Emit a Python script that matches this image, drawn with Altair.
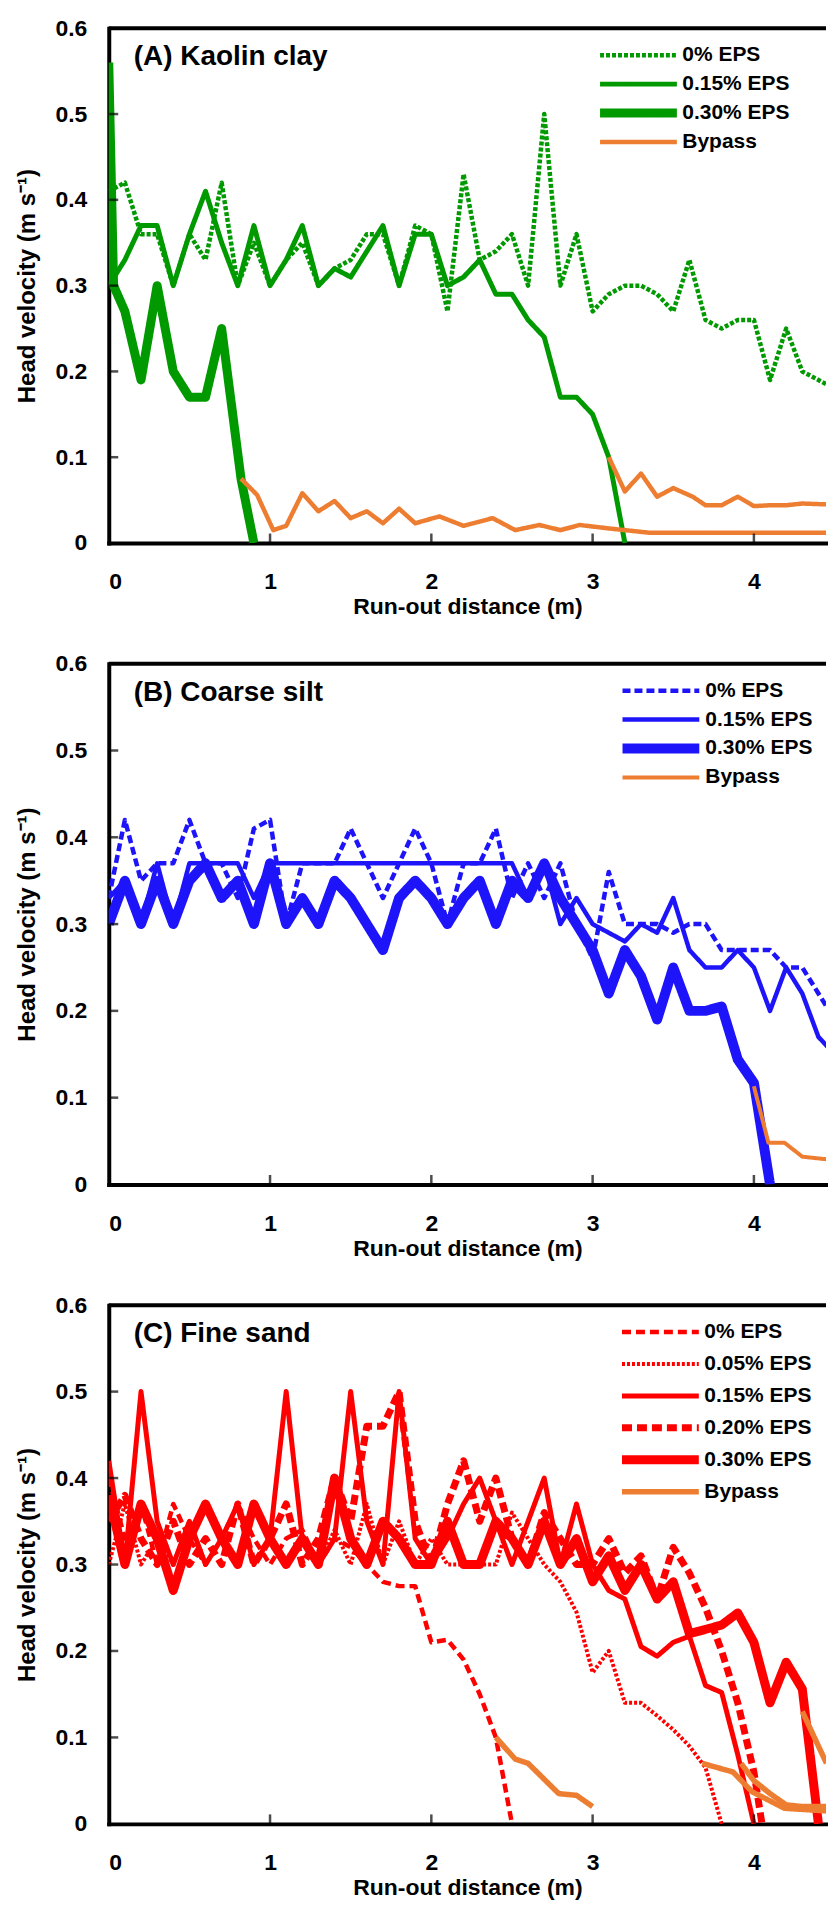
import altair as alt
import pandas as pd

FONT = "Liberation Sans"
XMAX = 4.447
X_TICKS = [0, 1, 2, 3, 4]
Y_TICKS = [0, 0.1, 0.2, 0.3, 0.4, 0.5, 0.6]
W = 719
ORANGE = "#ED7D31"

# ---------------- Panel A: Kaolin clay ----------------
A_title = "(A) Kaolin clay"
A_series = ["0% EPS", "0.15% EPS", "0.30% EPS", "Bypass"]
A_colors = ["#009900", "#009900", "#009900", ORANGE]
A_dash = [[4, 2], [1, 0], [1, 0], [1, 0]]
A_width = [4.5, 5, 9, 4.5]

A0_x = [0.0, 0.1, 0.2, 0.3, 0.4, 0.5, 0.6, 0.7, 0.8, 0.9, 1.0, 1.1, 1.2, 1.3, 1.4, 1.5,
        1.6, 1.7, 1.8, 1.9, 2.0, 2.1, 2.2, 2.3, 2.4, 2.5, 2.6, 2.7, 2.8, 2.9, 3.0, 3.1,
        3.2, 3.3, 3.4, 3.5, 3.6, 3.7, 3.8, 3.9, 4.0, 4.1, 4.2, 4.3, 4.4, 4.5]
A0_y = [0.41, 0.42, 0.36, 0.36, 0.30, 0.36, 0.33, 0.42, 0.30, 0.35, 0.30, 0.33, 0.35, 0.30,
        0.32, 0.33, 0.36, 0.36, 0.30, 0.37, 0.36, 0.27, 0.43, 0.33, 0.34, 0.36, 0.30, 0.50,
        0.30, 0.36, 0.27, 0.29, 0.30, 0.30, 0.29, 0.27, 0.33, 0.26, 0.25, 0.26, 0.26, 0.19,
        0.25, 0.20, 0.19, 0.18]
A15_x = [0.0, 0.1, 0.2, 0.3, 0.4, 0.5, 0.6, 0.7, 0.8, 0.9, 1.0, 1.1, 1.2, 1.3, 1.4, 1.5,
         1.6, 1.7, 1.8, 1.9, 2.0, 2.1, 2.2, 2.3, 2.4, 2.5, 2.6, 2.7, 2.8, 2.9, 3.0, 3.1, 3.2]
A15_y = [0.30, 0.33, 0.37, 0.37, 0.30, 0.36, 0.41, 0.35, 0.30, 0.37, 0.30, 0.33, 0.37, 0.30,
         0.32, 0.31, 0.34, 0.37, 0.30, 0.36, 0.36, 0.30, 0.31, 0.33, 0.29, 0.29, 0.26, 0.24,
         0.17, 0.17, 0.15, 0.10, 0.0]
A30_x = [0.0, 0.03, 0.1, 0.2, 0.3, 0.4, 0.5, 0.6, 0.7, 0.82, 0.9]
A30_y = [0.56, 0.30, 0.27, 0.19, 0.30, 0.20, 0.17, 0.17, 0.25, 0.075, 0.0]
AB1_x = [0.82, 0.92, 1.02, 1.1, 1.2, 1.3, 1.4, 1.5, 1.6, 1.7, 1.8, 1.9, 2.05, 2.2, 2.38,
         2.52, 2.67, 2.8, 2.92, 3.1, 3.35, 4.0, 4.45]
AB1_y = [0.075, 0.056, 0.015, 0.02, 0.058, 0.037, 0.049, 0.029, 0.037, 0.023, 0.04, 0.023,
         0.031, 0.02, 0.029, 0.015, 0.021, 0.015, 0.021, 0.017, 0.012, 0.012, 0.012]
AB2_x = [3.1, 3.2, 3.3, 3.4, 3.5, 3.62, 3.7, 3.8, 3.9, 4.0, 4.1, 4.2, 4.3, 4.45]
AB2_y = [0.10, 0.06, 0.081, 0.054, 0.064, 0.054, 0.044, 0.044, 0.054, 0.043, 0.044, 0.044,
         0.046, 0.045]

# ---------------- Panel B: Coarse silt ----------------
B_title = "(B) Coarse silt"
B_series = ["0% EPS", "0.15% EPS", "0.30% EPS", "Bypass"]
B_colors = ["#1E14FA", "#1E14FA", "#1E14FA", ORANGE]
B_dash = [[8, 4], [1, 0], [1, 0], [1, 0]]
B_width = [4.5, 4.5, 10, 4]

B0_x = A0_x
B0_y = [0.33, 0.42, 0.35, 0.37, 0.37, 0.42, 0.37, 0.37, 0.33, 0.41, 0.42, 0.30, 0.37, 0.37,
        0.37, 0.41, 0.37, 0.33, 0.37, 0.41, 0.37, 0.30, 0.37, 0.37, 0.41, 0.33, 0.37, 0.33,
        0.37, 0.30, 0.26, 0.36, 0.30, 0.30, 0.30, 0.29, 0.30, 0.30, 0.27, 0.27, 0.27, 0.27,
        0.25, 0.25, 0.22, 0.19]
B15_x = A0_x
B15_y = [0.33, 0.35, 0.30, 0.37, 0.30, 0.37, 0.37, 0.37, 0.37, 0.33, 0.37, 0.37, 0.37, 0.37,
         0.37, 0.37, 0.37, 0.37, 0.37, 0.37, 0.37, 0.37, 0.37, 0.37, 0.37, 0.37, 0.33, 0.37,
         0.30, 0.33, 0.30, 0.29, 0.28, 0.30, 0.29, 0.33, 0.27, 0.25, 0.25, 0.27, 0.25, 0.20,
         0.25, 0.22, 0.17, 0.15]
B30_x = [0.0, 0.1, 0.2, 0.3, 0.4, 0.5, 0.6, 0.7, 0.8, 0.9, 1.0, 1.1, 1.2, 1.3, 1.4, 1.5,
         1.6, 1.7, 1.8, 1.9, 2.0, 2.1, 2.2, 2.3, 2.4, 2.5, 2.6, 2.7, 2.8, 2.9, 3.0, 3.1,
         3.2, 3.3, 3.4, 3.5, 3.6, 3.7, 3.8, 3.9, 4.0, 4.1]
B30_y = [0.30, 0.35, 0.30, 0.35, 0.30, 0.35, 0.37, 0.33, 0.35, 0.30, 0.37, 0.30, 0.33, 0.30,
         0.35, 0.33, 0.30, 0.27, 0.33, 0.35, 0.33, 0.30, 0.33, 0.35, 0.30, 0.35, 0.33, 0.37,
         0.33, 0.30, 0.27, 0.22, 0.27, 0.24, 0.19, 0.25, 0.20, 0.20, 0.205, 0.144, 0.117, 0.0]
BB_x = [4.0, 4.09, 4.19, 4.3, 4.45]
BB_y = [0.113, 0.048, 0.048, 0.032, 0.029]

# ---------------- Panel C: Fine sand ----------------
C_title = "(C) Fine sand"
C_series = ["0% EPS", "0.05% EPS", "0.15% EPS", "0.20% EPS", "0.30% EPS", "Bypass"]
C_colors = ["#FF0000", "#FF0000", "#FF0000", "#FF0000", "#FF0000", ORANGE]
C_dash = [[9, 5], [3, 2], [1, 0], [10, 5], [1, 0], [1, 0]]
C_width = [4.5, 4, 5, 7, 9, 5.5]

C0_x = [0.0, 0.1, 0.2, 0.3, 0.4, 0.5, 0.6, 0.7, 0.8, 0.9, 1.0, 1.1, 1.2, 1.3, 1.4, 1.5,
        1.6, 1.7, 1.8, 1.9, 2.0, 2.1, 2.2, 2.3, 2.4, 2.5]
C0_y = [0.40, 0.33, 0.37, 0.30, 0.37, 0.33, 0.30, 0.33, 0.37, 0.33, 0.30, 0.33, 0.34, 0.30,
        0.33, 0.32, 0.30, 0.28, 0.275, 0.275, 0.21, 0.213, 0.19, 0.15, 0.10, 0.0]
C05_x = [0.0, 0.1, 0.2, 0.3, 0.4, 0.5, 0.6, 0.7, 0.8, 0.9, 1.0, 1.1, 1.2, 1.3, 1.4, 1.5,
         1.6, 1.7, 1.8, 1.9, 2.0, 2.1, 2.2, 2.3, 2.4, 2.5, 2.6, 2.7, 2.8, 2.9, 3.0, 3.1,
         3.2, 3.3, 3.4, 3.5, 3.6, 3.7, 3.8]
C05_y = [0.30, 0.37, 0.30, 0.33, 0.30, 0.35, 0.30, 0.33, 0.30, 0.37, 0.33, 0.30, 0.33, 0.30,
         0.34, 0.30, 0.37, 0.30, 0.35, 0.30, 0.33, 0.30, 0.30, 0.30, 0.30, 0.36, 0.33, 0.30,
         0.28, 0.245, 0.175, 0.20, 0.14, 0.14, 0.125, 0.109, 0.09, 0.065, 0.0]
C15_x = C05_x + [3.9, 4.0]
C15_y = [0.42, 0.30, 0.50, 0.35, 0.30, 0.35, 0.30, 0.33, 0.37, 0.30, 0.33, 0.50, 0.33, 0.30,
         0.33, 0.50, 0.35, 0.30, 0.50, 0.33, 0.30, 0.33, 0.37, 0.40, 0.35, 0.30, 0.35, 0.40,
         0.30, 0.37, 0.30, 0.27, 0.26, 0.205, 0.194, 0.21, 0.217, 0.16, 0.152, 0.08, 0.0]
C20_x = C15_x + [4.05]
C20_y = [0.35, 0.38, 0.33, 0.30, 0.35, 0.30, 0.33, 0.30, 0.37, 0.30, 0.33, 0.37, 0.30, 0.33,
         0.40, 0.35, 0.46, 0.46, 0.50, 0.35, 0.30, 0.37, 0.42, 0.35, 0.40, 0.33, 0.30, 0.36,
         0.33, 0.30, 0.30, 0.33, 0.29, 0.31, 0.26, 0.32, 0.29, 0.25, 0.20, 0.14, 0.06, 0.0]
C30_x = C15_x + [4.1, 4.2, 4.3, 4.4]
C30_y = [0.38, 0.30, 0.37, 0.33, 0.27, 0.33, 0.37, 0.33, 0.30, 0.37, 0.33, 0.30, 0.33, 0.30,
         0.40, 0.33, 0.30, 0.35, 0.33, 0.30, 0.30, 0.35, 0.30, 0.30, 0.35, 0.33, 0.30, 0.35,
         0.30, 0.33, 0.28, 0.31, 0.27, 0.30, 0.26, 0.28, 0.22, 0.225, 0.23, 0.244, 0.21, 0.14,
         0.187, 0.156, 0.0]
CB0_x = [2.4, 2.52, 2.6, 2.79, 2.9, 3.0]
CB0_y = [0.10, 0.075, 0.07, 0.035, 0.033, 0.02]
CB05_x = [3.68, 3.87, 3.99, 4.19, 4.45]
CB05_y = [0.07, 0.06, 0.037, 0.018, 0.015]
CB15_x = [3.92, 4.0, 4.1, 4.2, 4.3, 4.45]
CB15_y = [0.07, 0.05, 0.035, 0.022, 0.02, 0.02]
CB30_x = [4.3, 4.45]
CB30_y = [0.13, 0.07]


def frame(runs):
    rows = []
    for run_id, (series, xs, ys) in enumerate(runs):
        for i, (xv, yv) in enumerate(zip(xs, ys)):
            rows.append({"x": xv, "y": yv, "series": series, "run": run_id, "order": i})
    return pd.DataFrame(rows)


XSCALE = alt.Scale(domain=[0, XMAX], nice=False, zero=False)
YSCALE = alt.Scale(domain=[0, 0.6], nice=False)
XTITLE = "Run-out distance (m)"
YTITLE = "Head velocity (m s\u207b\u00b9)"
XAXIS = alt.Axis(values=X_TICKS, format="d", ticks=False, tickSize=0, grid=False,
                 domainColor="black", domainWidth=4, domainCap="square",
                 labelFont=FONT, labelFontSize=23, labelFontWeight="bold",
                 labelColor="black", labelPadding=28,
                 titleFont=FONT, titleFontSize=23, titleFontWeight="bold",
                 titleColor="black", titlePadding=2)
YAXIS = alt.Axis(values=Y_TICKS, ticks=False, tickSize=0, grid=False,
                 labelExpr="datum.value == 0 ? '0' : format(datum.value, '.1f')",
                 domainColor="black", domainWidth=4, domainCap="square",
                 labelFont=FONT, labelFontSize=23, labelFontWeight="bold",
                 labelColor="black", labelPadding=22,
                 titleFont=FONT, titleFontSize=24, titleFontWeight="bold",
                 titleColor="black", titlePadding=15)


def panel(title, runs, series, colors, dashes, widths, height, legend_x, legend_y,
          row_pad):
    df = frame(runs)
    leg = alt.Legend(
        title=None, orient="none", legendX=legend_x, legendY=legend_y,
        symbolType="stroke", symbolSize=77 * 77, clipHeight=22, rowPadding=row_pad,
        labelFont=FONT, labelFontSize=21, labelFontWeight="bold", labelColor="black",
        labelOffset=1, padding=0,
    )
    lines = alt.Chart(df).mark_line(clip=True, strokeJoin="round").encode(
        x=alt.X("x:Q", scale=XSCALE, title=XTITLE, axis=XAXIS),
        y=alt.Y("y:Q", scale=YSCALE, title=YTITLE, axis=YAXIS),
        color=alt.Color("series:N", scale=alt.Scale(domain=series, range=colors), legend=leg),
        strokeDash=alt.StrokeDash("series:N",
                                  scale=alt.Scale(type="ordinal", domain=series, range=dashes),
                                  legend=leg),
        strokeWidth=alt.StrokeWidth("series:N",
                                    scale=alt.Scale(type="ordinal", domain=series, range=widths),
                                    legend=leg),
        detail="run:N",
        order="order:Q",
    )
    xt = alt.Chart(pd.DataFrame({"x": X_TICKS[1:]})).mark_tick(
        orient="vertical", size=9, thickness=2.5, color="black").encode(
        x=alt.X("x:Q", scale=XSCALE, title=XTITLE, axis=XAXIS), y=alt.value(height - 5))
    yt = alt.Chart(pd.DataFrame({"y": Y_TICKS[1:]})).mark_tick(
        orient="horizontal", size=9, thickness=2.5, color="black").encode(
        y=alt.Y("y:Q", scale=YSCALE, title=YTITLE, axis=YAXIS), x=alt.value(5))
    top = alt.Chart(pd.DataFrame({"t": [0]})).mark_rule(color="black", strokeWidth=4).encode(
        x=alt.value(0), x2=alt.value(W), y=alt.value(0))
    ttl = alt.Chart(pd.DataFrame({"t": [title]})).mark_text(
        align="left", baseline="top", font=FONT, fontSize=28, fontWeight="bold",
        color="black").encode(x=alt.value(25), y=alt.value(15), text="t:N")
    return alt.layer(lines, xt, yt, top, ttl).properties(width=W, height=height)


pA = panel(A_title, [
    ("0% EPS", A0_x, A0_y), ("0.15% EPS", A15_x, A15_y), ("0.30% EPS", A30_x, A30_y),
    ("Bypass", AB1_x, AB1_y), ("Bypass", AB2_x, AB2_y)],
    A_series, A_colors, A_dash, A_width, 516, 488, 16, 7)
pB = panel(B_title, [
    ("0% EPS", B0_x, B0_y), ("0.15% EPS", B15_x, B15_y), ("0.30% EPS", B30_x, B30_y),
    ("Bypass", BB_x, BB_y)],
    B_series, B_colors, B_dash, B_width, 522, 510, 16, 7)
pC = panel(C_title, [
    ("0% EPS", C0_x, C0_y), ("0.05% EPS", C05_x, C05_y), ("0.15% EPS", C15_x, C15_y),
    ("0.20% EPS", C20_x, C20_y), ("0.30% EPS", C30_x, C30_y),
    ("Bypass", CB0_x, CB0_y), ("Bypass", CB05_x, CB05_y), ("Bypass", CB15_x, CB15_y),
    ("Bypass", CB30_x, CB30_y)],
    C_series, C_colors, C_dash, C_width, 520, 510, 16, 10)

chart = alt.vconcat(pA, pB, pC, spacing=121, bounds="flush").resolve_scale(
    color="independent", strokeDash="independent", strokeWidth="independent"
).properties(padding={"left": 8, "top": 7, "right": 0, "bottom": 0}).configure_view(
    stroke=None)

chart.save("out.html", embed_options={"renderer": "svg", "actions": False})
